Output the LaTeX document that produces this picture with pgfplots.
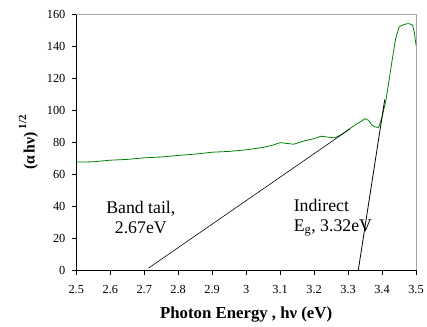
\documentclass[border=0pt]{standalone}
\usepackage{fontspec}
\setmainfont{Liberation Serif}
\usepackage{pgfplots}
\pgfplotsset{compat=1.18}
\definecolor{curvegreen}{RGB}{0,128,0}
\begin{document}
\begin{tikzpicture}
\begin{axis}[
  scale only axis, width=343bp, height=258bp,
  xmin=2.5, xmax=3.5, ymin=0, ymax=160,
  xtick={2.5,2.6,...,3.5}, ytick={0,20,...,160},
  xticklabels={2.5,2.6,2.7,2.8,2.9,3,3.1,3.2,3.3,3.4,3.5},
  axis x line*=bottom, axis y line*=left,
  axis line style={black, line width=0.8pt, -},
  tick align=outside, major tick length=4.5bp,
  tick style={black, line width=0.8pt},
  /pgf/number format/assume math mode=true,
  tick label style={font=\fontsize{12.5}{14}\selectfont},
  xticklabel style={yshift=-7bp},
  yticklabel style={xshift=-3bp},
  xlabel={\textbf{Photon Energy , hν (eV)}},
  ylabel={\textbf{(α\,hν)}\,\raisebox{1.2ex}{\fontsize{11}{12}\selectfont\textbf{1/2}}},
  xlabel style={font=\fontsize{17}{19}\selectfont, yshift=-6bp},
  ylabel style={font=\fontsize{16}{18}\selectfont, yshift=2bp},
  clip=false,
]
\draw[gray!70, line width=0.8pt] (rel axis cs:0,1) -- (rel axis cs:1,1) -- (rel axis cs:1,0);
\addplot[curvegreen, line width=0.8pt] coordinates {
(2.50,67.8) (2.55,68.0) (2.60,69.0) (2.65,69.5) (2.70,70.5) (2.75,71.0)
(2.80,72.0) (2.85,72.8) (2.90,74.0) (2.95,74.5) (3.00,75.5) (3.05,77.0)
(3.08,78.5) (3.10,80.0) (3.12,79.5) (3.14,79.0) (3.17,81.0) (3.20,82.5)
(3.22,84.0) (3.24,83.5) (3.26,83.0) (3.28,85.0) (3.30,88.0) (3.32,91.0)
(3.34,93.5) (3.35,95.0) (3.36,94.0) (3.37,91.0) (3.38,89.8) (3.39,89.5)
(3.40,96) (3.41,105) (3.42,118) (3.43,132) (3.44,145) (3.45,152.5)
(3.46,153.5) (3.47,154.3) (3.48,154.5) (3.49,153.5) (3.495,149) (3.50,141)
};
\addplot[black, line width=0.6pt] coordinates {(2.713,1.5) (3.305,88.5)};
\addplot[black, line width=0.8pt] coordinates {(3.330,0) (3.408,107)};
\node[font=\fontsize{18}{20}\selectfont, align=center] at (axis cs:2.69,33) {Band tail,\\2.67eV};
\node[font=\fontsize{18}{20}\selectfont, align=left, anchor=west] at (axis cs:3.13,33) {Indirect\\E\textsubscript{g}, 3.32eV};
\end{axis}
\path (current axis.south west) +(-77bp,-57bp);
\path (current axis.north east) +(7bp,15bp);
\end{tikzpicture}
\end{document}
